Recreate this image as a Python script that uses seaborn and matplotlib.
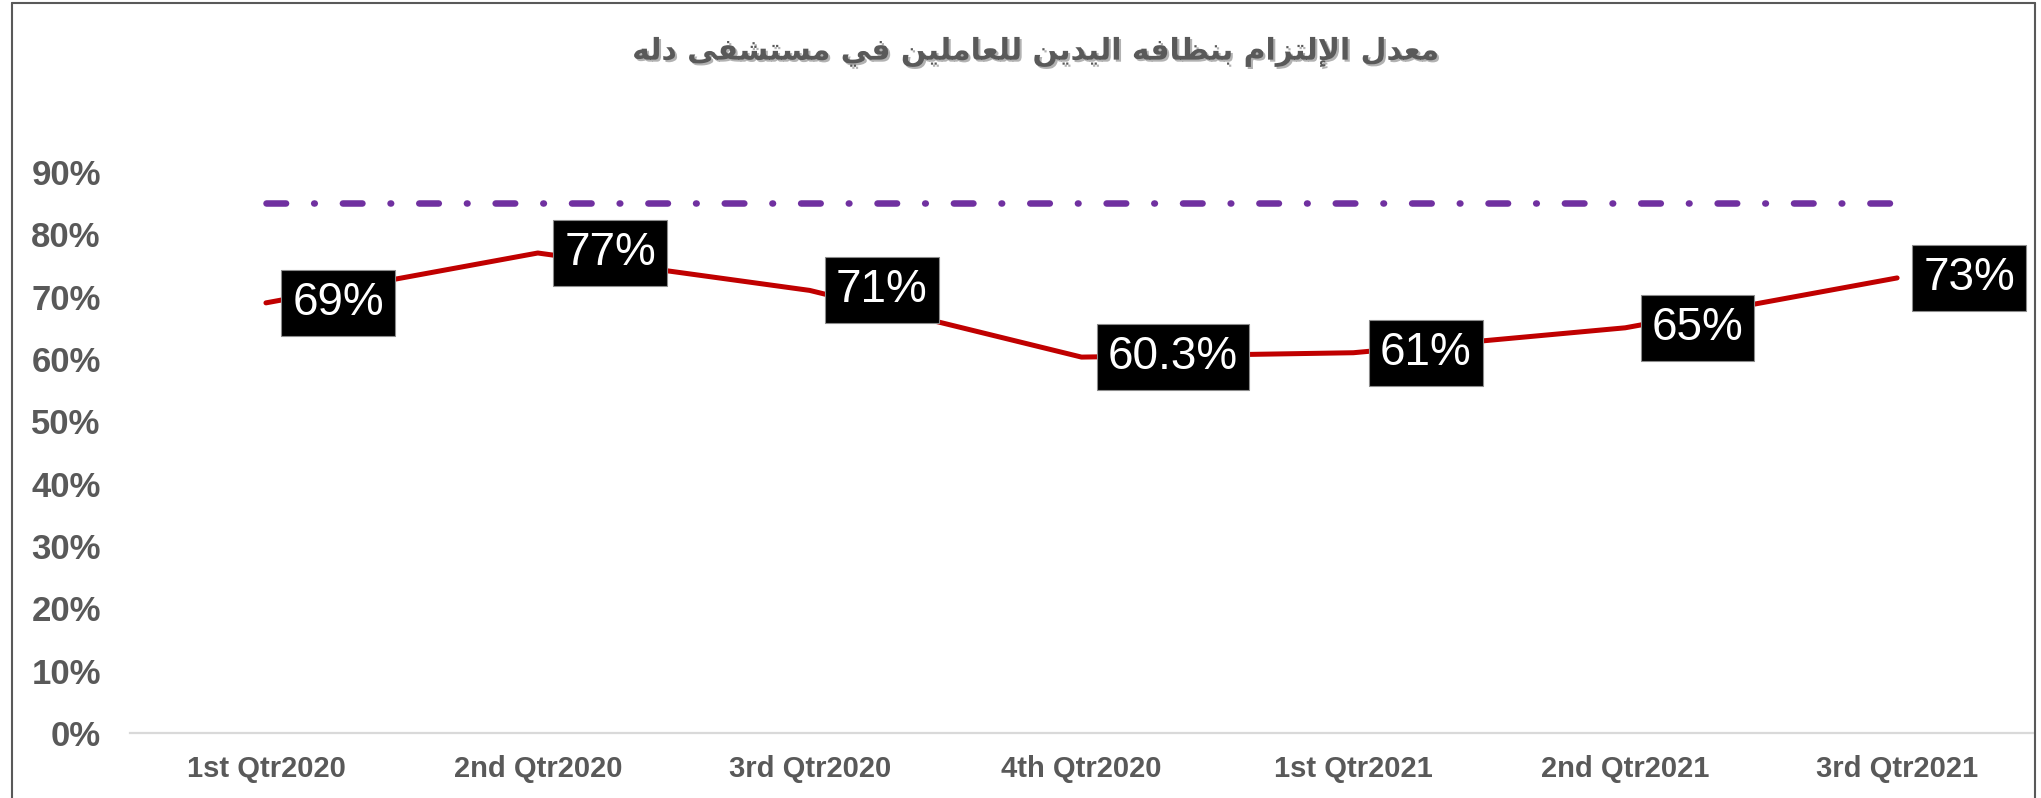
import matplotlib
matplotlib.use('Agg')
import matplotlib.pyplot as plt
import matplotlib.patheffects as pe
from matplotlib.lines import Line2D
from matplotlib.ticker import PercentFormatter
import pandas as pd
import seaborn as sns

# Chart data
quarters = ['1st Qtr2020', '2nd Qtr2020', '3rd Qtr2020', '4th Qtr2020',
            '1st Qtr2021', '2nd Qtr2021', '3rd Qtr2021']
compliance = [0.69, 0.77, 0.71, 0.603, 0.61, 0.65, 0.73]
value_labels = ['69%', '77%', '71%', '60.3%', '61%', '65%', '73%']
target = [0.85, 0.85, 0.85, 0.85, 0.85, 0.85, 0.85]
y_ticks = [0.0, 0.1, 0.2, 0.3, 0.4, 0.5, 0.6, 0.7, 0.8, 0.9]
title = 'معدل الإلتزام بنظافه اليدين للعاملين في مستشفى دله'

# Arabic letter forms: isolated, final, initial, medial
AR_FORMS = {
    'ا': ('\uFE8D', '\uFE8E', None, None),
    'إ': ('\uFE87', '\uFE88', None, None),
    'ب': ('\uFE8F', '\uFE90', '\uFE91', '\uFE92'),
    'ت': ('\uFE95', '\uFE96', '\uFE97', '\uFE98'),
    'د': ('\uFEA9', '\uFEAA', None, None),
    'ز': ('\uFEAF', '\uFEB0', None, None),
    'س': ('\uFEB1', '\uFEB2', '\uFEB3', '\uFEB4'),
    'ش': ('\uFEB5', '\uFEB6', '\uFEB7', '\uFEB8'),
    'ظ': ('\uFEC5', '\uFEC6', '\uFEC7', '\uFEC8'),
    'ع': ('\uFEC9', '\uFECA', '\uFECB', '\uFECC'),
    'ف': ('\uFED1', '\uFED2', '\uFED3', '\uFED4'),
    'ل': ('\uFEDD', '\uFEDE', '\uFEDF', '\uFEE0'),
    'م': ('\uFEE1', '\uFEE2', '\uFEE3', '\uFEE4'),
    'ن': ('\uFEE5', '\uFEE6', '\uFEE7', '\uFEE8'),
    'ه': ('\uFEE9', '\uFEEA', '\uFEEB', '\uFEEC'),
    'ى': ('\uFEEF', '\uFEF0', None, None),
    'ي': ('\uFEF1', '\uFEF2', '\uFEF3', '\uFEF4'),
}
LAM_ALEF = {'ا': ('\uFEFB', '\uFEFC'), 'إ': ('\uFEF9', '\uFEFA')}


def shape_arabic(text):
    # matplotlib has no Arabic shaping, so pick the joined forms and reverse
    out = []
    prev_joins = False
    i = 0
    while i < len(text):
        c = text[i]
        nxt = text[i + 1] if i + 1 < len(text) else ''
        if c not in AR_FORMS:
            out.append(c)
            prev_joins = False
            i += 1
            continue
        if c == 'ل' and nxt in LAM_ALEF:
            iso, fin = LAM_ALEF[nxt]
            out.append(fin if prev_joins else iso)
            prev_joins = False
            i += 2
            continue
        iso, fin, ini, med = AR_FORMS[c]
        joins_next = ini is not None and nxt in AR_FORMS
        if prev_joins and joins_next:
            out.append(med)
        elif prev_joins:
            out.append(fin)
        elif joins_next:
            out.append(ini)
        else:
            out.append(iso)
        prev_joins = joins_next
        i += 1
    return ''.join(reversed(out))


sns.set_style('white')
plt.rcParams['font.family'] = ['Liberation Sans', 'DejaVu Sans']

df = pd.DataFrame({'quarter': quarters, 'compliance': compliance, 'target': target})

fig = plt.figure(figsize=(20.41, 7.98), dpi=100)
ax = fig.add_axes([0.0637, 0.0815, 0.9324, 0.703])

# Target line and compliance line
sns.lineplot(data=df, x='quarter', y='target', sort=False, ax=ax, color='#7030A0',
             linewidth=4.7, linestyle=(0, (3, 4.3, 0.1, 4.3)), dash_capstyle='round')
sns.lineplot(data=df, x='quarter', y='compliance', sort=False, ax=ax, color='#C00000',
             linewidth=3.6, solid_joinstyle='round', solid_capstyle='round')

# Data labels in black boxes
for q, v, lab in zip(quarters, compliance, value_labels):
    ax.annotate(lab, xy=(quarters.index(q), v), xytext=(19, 0), textcoords='offset points',
                ha='left', va='center', color='white', fontsize=33,
                family=['Liberation Sans', 'DejaVu Sans'],
                bbox=dict(boxstyle='square,pad=0.24', fc='black', ec='#8c8c8c', lw=0.8),
                zorder=5)

ax.set_xlim(-0.5, len(quarters) - 0.5)
ax.set_ylim(0, 0.9)
ax.set_yticks(y_ticks)
ax.yaxis.set_major_formatter(PercentFormatter(1.0, decimals=0))
ax.set_xlabel('')
ax.set_ylabel('')

for lab in ax.get_yticklabels():
    lab.set_family(['Liberation Sans Narrow', 'Liberation Sans', 'DejaVu Sans'])
    lab.set_fontweight('bold')
    lab.set_fontsize(25)
    lab.set_color('#595959')
for lab in ax.get_xticklabels():
    lab.set_fontweight('bold')
    lab.set_fontsize(21)
    lab.set_color('#595959')
ax.tick_params(axis='y', length=0, pad=21)
ax.tick_params(axis='x', length=0, pad=16)

sns.despine(ax=ax, left=True, top=True, right=True)
ax.spines['bottom'].set_color('#d9d9d9')
ax.spines['bottom'].set_linewidth(1.6)

# Title with a soft shadow
fig.text(0.508, 0.935, shape_arabic(title), ha='center', va='center', fontsize=21.5,
         fontweight='bold', color='#595959', family=['DejaVu Sans'],
         path_effects=[pe.withSimplePatchShadow(offset=(1.5, -1.5), shadow_rgbFace='#000000', alpha=0.3)])

# Chart border
fig.add_artist(Line2D([0.006, 0.006], [0, 0.996], transform=fig.transFigure, color='#595959', lw=1.5))
fig.add_artist(Line2D([0.006, 0.997], [0.996, 0.996], transform=fig.transFigure, color='#595959', lw=1.5))
fig.add_artist(Line2D([0.997, 0.997], [0, 0.996], transform=fig.transFigure, color='#595959', lw=1.5))

fig.savefig('out.png', dpi=100)
